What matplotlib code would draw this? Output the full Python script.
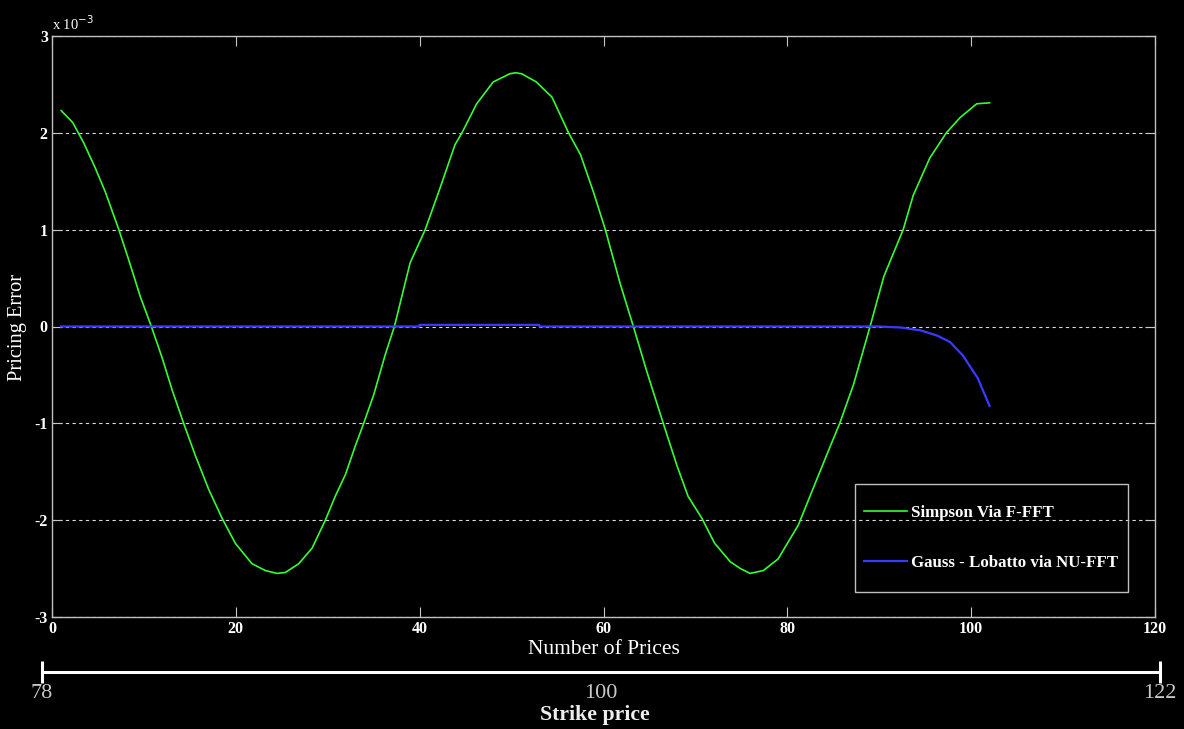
import matplotlib
matplotlib.use("Agg")
import matplotlib.pyplot as plt
from matplotlib.patches import Rectangle

# ---- data (pricing error in units of 1e-3) ----
simpson_x = [1.0, 2.25, 3.45, 4.72, 5.8, 7.25, 8.34, 9.61, 10.81, 11.97, 13.06, 14.33,
             15.6, 17.05, 18.5, 19.95, 21.76, 23.21, 24.48, 25.39, 26.84, 28.29, 29.74,
             30.83, 31.92, 33.01, 33.91, 35.0, 36.27, 37.25, 38.96, 40.6, 42.2, 43.85,
             44.6, 46.2, 48.0, 49.8, 50.45, 51.1, 52.7, 54.4, 56.2, 57.5, 58.9, 60.2,
             61.8, 63.25, 64.7, 66.5, 68.0, 69.2, 70.7, 72.1, 73.8, 74.9, 75.95, 77.4,
             79.0, 81.2, 83.2, 84.7, 85.7, 87.2, 89.0, 90.5, 92.6, 93.7, 95.5, 97.3,
             98.8, 100.6, 102.0]
simpson_err = [2.23, 2.107, 1.897, 1.634, 1.39, 1.006, 0.69, 0.308, 0.0, -0.32, -0.653,
               -1.002, -1.334, -1.683, -1.98, -2.24, -2.45, -2.52, -2.55, -2.54, -2.45,
               -2.29, -2.0, -1.75, -1.53, -1.23, -1.0, -0.705, -0.286, 0.0, 0.657, 1.0,
               1.425, 1.879, 2.0, 2.3, 2.525, 2.61, 2.62, 2.61, 2.525, 2.368, 2.0, 1.774,
               1.39, 1.0, 0.447, 0.0, -0.461, -1.0, -1.439, -1.753, -1.98, -2.24, -2.43,
               -2.5, -2.55, -2.52, -2.4, -2.05, -1.58, -1.23, -1.0, -0.6, 0.0, 0.517,
               1.0, 1.355, 1.74, 2.0, 2.158, 2.3, 2.31]

gauss_x = [1, 39.95, 40, 53, 53.05, 89.9, 92.3, 94.5, 96.3, 97.7, 99.1, 100.2, 100.7, 102]
gauss_err = [0.0, 0.0, 0.017, 0.017, 0.0, 0.0, -0.01, -0.04, -0.094, -0.16, -0.30,
             -0.46, -0.53, -0.82]

x_ticks = [0, 20, 40, 60, 80, 100, 120]
y_ticks = [-3, -2, -1, 0, 1, 2, 3]
strike_ticks = [78, 100, 122]

series_labels = ["Simpson Via F-FFT", "Gauss - Lobatto via NU-FFT"]

SERIF = ["Liberation Serif", "DejaVu Serif"]
plt.rcParams["font.family"] = SERIF

fig = plt.figure(figsize=(11.84, 7.29), dpi=100, facecolor="black")
W, H = 1184, 729
AX_L, AX_R, AX_T, AX_B = 52, 1155, 36, 617
ax = fig.add_axes([AX_L / W, 1 - AX_B / H, (AX_R - AX_L) / W, (AX_B - AX_T) / H])
ax.set_facecolor("black")


def ax_frac(px, py):
    return (px - AX_L) / (AX_R - AX_L), (AX_B - py) / (AX_B - AX_T)


ax.plot(simpson_x, simpson_err, color="#33ff33", lw=1.2, label=series_labels[0])
ax.plot(gauss_x, gauss_err, color="#3a3aff", lw=1.6, label=series_labels[1])

ax.set_xlim(0, 120)
ax.set_ylim(-3, 3)
ax.set_xticks(x_ticks)
ax.set_yticks(y_ticks)
ax.set_xticklabels([str(t) for t in x_ticks])
ax.set_yticklabels([str(t) for t in y_ticks])
ax.tick_params(direction="in", length=7.5, width=0.8, color="#c8c8c8",
               top=True, right=True, labelcolor="white", labelsize=11.5, pad=3)
for lab in ax.get_xticklabels() + ax.get_yticklabels():
    lab.set_fontweight("bold")
for s in ax.spines.values():
    s.set_color("#c0c0c0")
    s.set_linewidth(1.0)

ax.yaxis.grid(True, color="#d8d8d8", linestyle=(0, (3, 3)), linewidth=0.8)
ax.xaxis.grid(False)

ax.set_xlabel("Number of Prices", color="white", fontsize=15.5)
ax.xaxis.set_label_coords(0.5, ax_frac(0, 650)[1])
ax.xaxis.label.set_va("center")
ax.set_ylabel("Pricing Error", color="white", fontsize=14.7)
ax.yaxis.set_label_coords(ax_frac(18, 0)[0], ax_frac(0, 327)[1])
ax.yaxis.label.set_va("center")

ax.text(0.0, 1.005, "x 10$^{-3}$", transform=ax.transAxes, color="white",
        fontsize=10.5, ha="left", va="bottom")

# legend: entries without frame + separate rectangular frame
lx, ly = ax_frac(864, 538)
leg = ax.legend(loc="center left", bbox_to_anchor=(lx, ly), frameon=False,
                borderaxespad=0, borderpad=0, handlelength=2.55,
                handletextpad=0.25, labelspacing=2.05,
                prop={"family": SERIF, "weight": "bold", "size": 12.2})
for t in leg.get_texts():
    t.set_color("white")
fx0, fy0 = ax_frac(855, 592)
fx1, fy1 = ax_frac(1128, 484)
ax.add_patch(Rectangle((fx0, fy0), fx1 - fx0, fy1 - fy0, transform=ax.transAxes,
                       facecolor="none", edgecolor="#c0c0c0", lw=1.0, zorder=5))

# ---- secondary strike-price axis ----
ax2 = fig.add_axes([42 / W, 1 - 672 / H, (1160 - 42) / W, 0.0001])
ax2.set_facecolor("none")
for k in ["top", "left", "right"]:
    ax2.spines[k].set_visible(False)
ax2.spines["bottom"].set_color("white")
ax2.spines["bottom"].set_linewidth(2.2)
ax2.set_xlim(78, 122)
ax2.set_yticks([])
ax2.set_xticks(strike_ticks)
ax2.set_xticklabels([str(t) for t in strike_ticks])
ax2.tick_params(axis="x", direction="inout", length=16, width=2.2, color="white",
                labelcolor="#c8c8c8", labelsize=16, pad=1)
for tk, val in zip(ax2.xaxis.get_major_ticks(), strike_ticks):
    if val == 100:
        tk.tick1line.set_visible(False)
fig.text(595 / W, 1 - 720 / H, "Strike price", color="#eeeeee", fontsize=15.7,
         fontweight="bold", ha="center", va="baseline")

fig.savefig("out.png", dpi=100, facecolor="black")
